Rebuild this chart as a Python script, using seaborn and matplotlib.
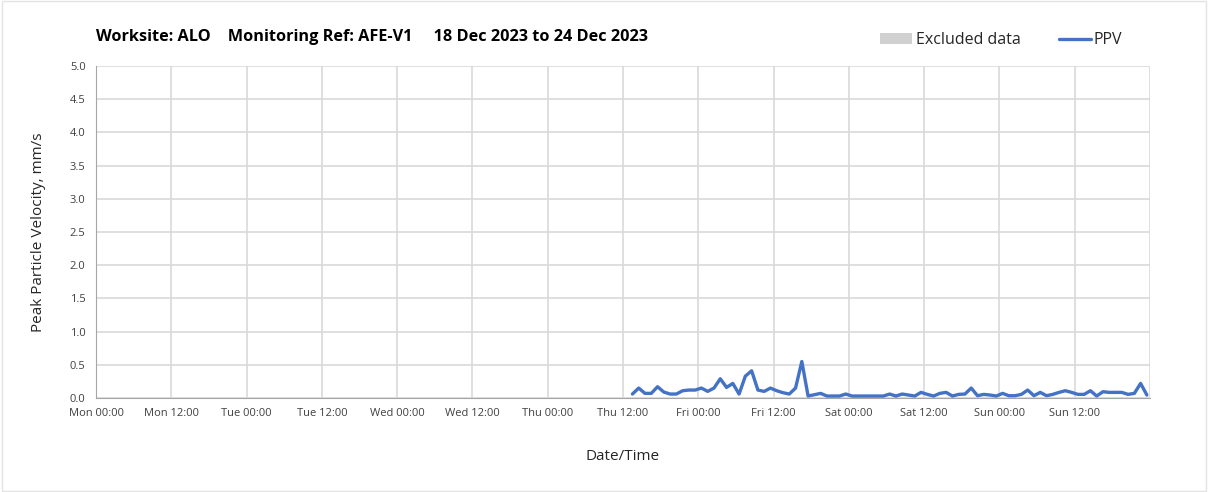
import numpy as np
import pandas as pd
import seaborn as sns
import matplotlib.pyplot as plt
import matplotlib.dates as mdates
from matplotlib.patches import Patch
from matplotlib.lines import Line2D

# hourly PPV readings, Thu 21 Dec 13:30 onwards (mm/s)
ppv = [0.06, 0.15, 0.07, 0.07, 0.17, 0.09, 0.06, 0.06, 0.11, 0.12,
       0.12, 0.15, 0.10, 0.15, 0.29, 0.16, 0.22, 0.06, 0.33, 0.41,
       0.12, 0.10, 0.15, 0.11, 0.08, 0.06, 0.15, 0.55,
       0.03, 0.05, 0.07, 0.03, 0.03, 0.03, 0.06, 0.03, 0.03, 0.03,
       0.03, 0.03, 0.03, 0.06, 0.03, 0.06, 0.045, 0.03, 0.085, 0.055,
       0.03, 0.07, 0.085, 0.03, 0.055, 0.06,
       0.15, 0.035, 0.055, 0.045, 0.03, 0.07, 0.035, 0.035, 0.055, 0.12,
       0.035, 0.085, 0.035, 0.055, 0.085, 0.11, 0.085, 0.055, 0.055, 0.11,
       0.03, 0.095, 0.085, 0.085, 0.085, 0.055, 0.07, 0.22, 0.045]
start = "2023-12-21 13:30"
week_start = "2023-12-18 00:00"
week_end = "2023-12-25 00:00"
title = "Worksite: ALO    Monitoring Ref: AFE-V1     18 Dec 2023 to 24 Dec 2023"

df = pd.DataFrame({"time": pd.date_range(start, periods=len(ppv), freq="h"),
                   "PPV": ppv})

sns.set_style("white")
plt.rcParams['font.family'] = ['Open Sans', 'DejaVu Sans']

fig = plt.figure(figsize=(12.08, 4.92), dpi=100)
ax = fig.add_axes([0.0795, 0.191, 0.8725, 0.675])

sns.lineplot(data=df, x="time", y="PPV", color="#4472C4", linewidth=2.4, ax=ax)

ax.set_xlim(pd.Timestamp(week_start), pd.Timestamp(week_end))
ax.set_ylim(0, 5)
ax.set_yticks(np.arange(0, 5.01, 0.5))
ax.set_yticklabels([f"{v:.1f}" for v in np.arange(0, 5.01, 0.5)])
xt = pd.date_range(week_start, week_end, freq="12h")
ax.set_xticks(xt)
ax.set_xticklabels([t.strftime("%a %H:%M") for t in xt[:-1]] + [""])

ax.grid(True, color="#d9d9d9", linewidth=1.2)
ax.set_axisbelow(True)
for s in ["top", "right"]:
    ax.spines[s].set_visible(False)
for s in ["left", "bottom"]:
    ax.spines[s].set_color("#a6a6a6")
ax.tick_params(axis="both", which="major", length=4, width=1, color="#a6a6a6",
               labelsize=8, labelcolor="#404040", direction="out")
ax.tick_params(axis="x", pad=3)

ax.set_xlabel("Date/Time", fontsize=11, color="#262626", labelpad=22)
ax.set_ylabel("Peak Particle Velocity, mm/s", fontsize=11, color="#262626", labelpad=17)

fig.text(0.0795, 0.925, title, fontsize=11.7, fontweight="bold", color="#000000",
         va="center", ha="left")

handles = [Patch(facecolor="#d0d0d0", edgecolor="none", label="Excluded data"),
           Line2D([0], [0], color="#4472C4", linewidth=2.4, label="PPV")]
fig.legend(handles=handles, loc="center right", bbox_to_anchor=(0.941, 0.918),
           ncol=2, frameon=False, fontsize=11.5, handlelength=2.0,
           handletextpad=0.2, columnspacing=2.4, labelcolor="#262626")

fig.patches.append(plt.Rectangle((0.002, 0.002), 0.996, 0.996, transform=fig.transFigure,
                                 fill=False, edgecolor="#e3e3e3", linewidth=1))

plt.savefig("out.png", dpi=100)
